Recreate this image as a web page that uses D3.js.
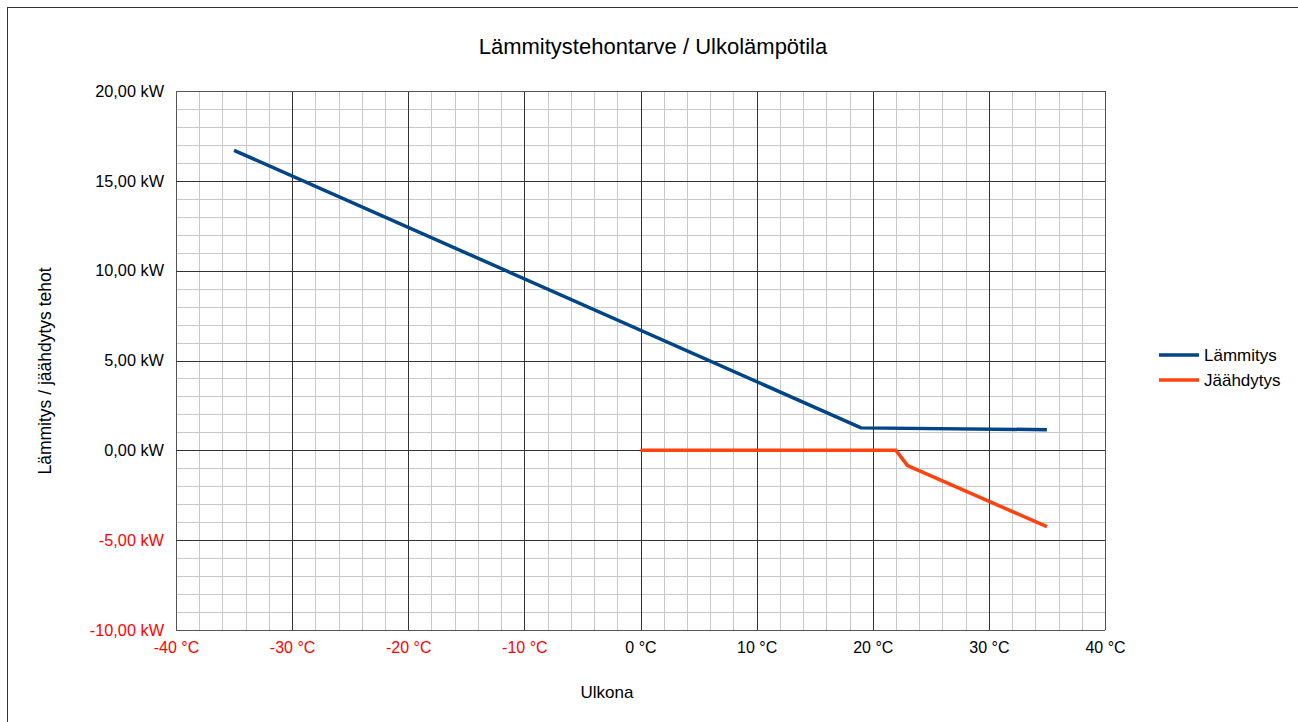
<!DOCTYPE html>
<html>
<head>
<meta charset="utf-8">
<script src="https://cdn.jsdelivr.net/npm/d3@7"></script>
<style>
  body { margin: 0; background: #fff; }
  text { font-family: "Liberation Sans", Arial, sans-serif; }
</style>
</head>
<body>
<div id="chart"></div>
<script>
// x: outdoor temperature (°C), y: power (kW)
var heatTemps = [-35, 19, 35];
var heatValues = [16.7, 1.25, 1.15];
var coolTemps = [0, 22, 23, 35];
var coolValues = [0, 0, -0.85, -4.25];
var xTicks = [-40, -30, -20, -10, 0, 10, 20, 30, 40];
var yTicks = [-10, -5, 0, 5, 10, 15, 20];
var seriesNames = ["Lämmitys", "Jäähdytys"];
var seriesColors = ["#004586", "#ff420e"];

var W = 1298, H = 722;
var margin = { top: 91, right: 193, bottom: 92, left: 176 };
var width = W - margin.left - margin.right,
    height = H - margin.top - margin.bottom;

var svg = d3.select("#chart").append("svg")
    .attr("width", W)
    .attr("height", H);

// outer frame
svg.append("rect")
    .attr("x", 7.5).attr("y", 7.5)
    .attr("width", W + 20).attr("height", H + 20)
    .attr("fill", "none").attr("stroke", "#333").attr("stroke-width", 1);

var g = svg.append("g")
    .attr("transform", "translate(" + margin.left + "," + margin.top + ")");

var x = d3.scaleLinear().domain([-40, 40]).range([0, width]);
var y = d3.scaleLinear().domain([-10, 20]).range([height, 0]);

// minor grid
g.append("g").selectAll("line")
    .data(d3.range(-40, 41, 2))
    .enter().append("line")
    .attr("x1", function (d) { return Math.round(x(d)) + 0.5; })
    .attr("x2", function (d) { return Math.round(x(d)) + 0.5; })
    .attr("y1", 0).attr("y2", height)
    .attr("stroke", "#c8c8c8");
g.append("g").selectAll("line")
    .data(d3.range(-10, 21, 1))
    .enter().append("line")
    .attr("y1", function (d) { return Math.round(y(d)) + 0.5; })
    .attr("y2", function (d) { return Math.round(y(d)) + 0.5; })
    .attr("x1", 0).attr("x2", width)
    .attr("stroke", "#c8c8c8");

// major grid
g.append("g").selectAll("line")
    .data(xTicks)
    .enter().append("line")
    .attr("x1", function (d) { return Math.round(x(d)) + 0.5; })
    .attr("x2", function (d) { return Math.round(x(d)) + 0.5; })
    .attr("y1", 0).attr("y2", height)
    .attr("stroke", function (d) { return d === -40 || d === 40 ? "#555" : "#333"; });
g.append("g").selectAll("line")
    .data(yTicks)
    .enter().append("line")
    .attr("y1", function (d) { return Math.round(y(d)) + 0.5; })
    .attr("y2", function (d) { return Math.round(y(d)) + 0.5; })
    .attr("x1", 0).attr("x2", width)
    .attr("stroke", function (d) { return d === -10 || d === 20 ? "#555" : "#333"; });

// axes (labels only)
var xAxis = d3.axisBottom(x).tickValues(xTicks).tickSize(0).tickPadding(12)
    .tickFormat(function (d) { return d + " °C"; });
var gx = g.append("g").attr("transform", "translate(0," + height + ")").call(xAxis);
gx.select(".domain").remove();
gx.selectAll("text")
    .attr("font-size", 16)
    .attr("font-family", "Liberation Sans, Arial, sans-serif")
    .attr("fill", function (d) { return d < 0 ? "#ff0000" : "#000"; });

var yAxis = d3.axisLeft(y).tickValues(yTicks).tickSize(0).tickPadding(12)
    .tickFormat(function (d) { return d.toFixed(2).replace(".", ",") + " kW"; });
var gy = g.append("g").call(yAxis);
gy.select(".domain").remove();
gy.selectAll("text")
    .attr("font-size", 16.3)
    .attr("font-family", "Liberation Sans, Arial, sans-serif")
    .attr("fill", function (d) { return d < 0 ? "#ff0000" : "#000"; });

// lines
var line = d3.line()
    .x(function (d) { return x(d[0]); })
    .y(function (d) { return y(d[1]); });

var series = [
    d3.zip(heatTemps, heatValues),
    d3.zip(coolTemps, coolValues)
];

g.selectAll(".series")
    .data(series)
    .enter().append("path")
    .attr("class", "series")
    .attr("d", line)
    .attr("fill", "none")
    .attr("stroke", function (d, i) { return seriesColors[i]; })
    .attr("stroke-width", 3.5)
    .attr("stroke-linejoin", "round");

// title and axis titles
svg.append("text")
    .attr("x", 653).attr("y", 54)
    .attr("text-anchor", "middle")
    .attr("font-size", 22)
    .text("Lämmitystehontarve / Ulkolämpötila");

svg.append("text")
    .attr("x", 607).attr("y", 698)
    .attr("text-anchor", "middle")
    .attr("font-size", 17)
    .text("Ulkona");

svg.append("text")
    .attr("transform", "translate(51,371) rotate(-90)")
    .attr("text-anchor", "middle")
    .attr("font-size", 17.5)
    .text("Lämmitys / jäähdytys tehot");

// legend
var legend = svg.append("g").attr("transform", "translate(1159,355)");
var items = legend.selectAll("g")
    .data(seriesNames)
    .enter().append("g")
    .attr("transform", function (d, i) { return "translate(0," + (i * 25) + ")"; });
items.append("line")
    .attr("x1", 0).attr("x2", 40)
    .attr("stroke", function (d, i) { return seriesColors[i]; })
    .attr("stroke-width", 3.5);
items.append("text")
    .attr("x", 45).attr("y", 6)
    .attr("font-size", 17)
    .text(function (d) { return d; });
</script>
</body>
</html>
